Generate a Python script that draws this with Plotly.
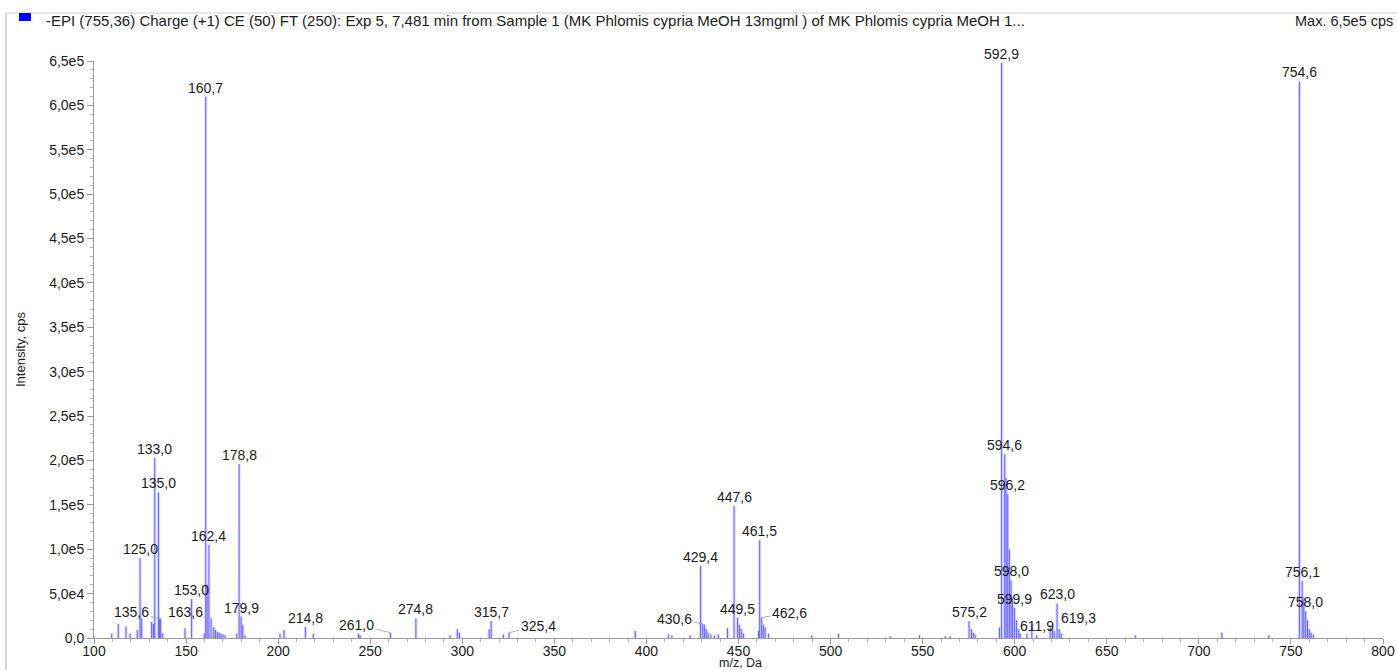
import plotly.graph_objects as go

# ---------------- data ----------------
# labelled peaks (m/z, intensity in cps)
labeled_mz = [125.0, 133.0, 135.0, 135.6, 153.0, 160.7, 162.4, 163.6, 178.8, 179.9,
              214.8, 261.0, 274.8, 315.7, 325.4, 429.4, 430.6, 447.6, 449.5, 461.5,
              462.6, 575.2, 592.9, 594.6, 596.2, 598.0, 599.9, 611.9, 619.3, 623.0,
              754.6, 756.1, 758.0]
labeled_int = [9.0e4, 2.03e5, 1.64e5, 2.2e4, 4.4e4, 6.1e5, 1.05e5, 2.2e4, 1.96e5, 2.4e4,
               1.25e4, 6.0e3, 2.2e4, 1.9e4, 6.0e3, 8.1e4, 1.6e4, 1.49e5, 2.3e4, 1.1e5,
               2.3e4, 1.9e4, 6.48e5, 2.07e5, 1.62e5, 6.5e4, 3.4e4, 3.0e3, 1.2e4, 3.9e4,
               6.27e5, 6.4e4, 3.0e4]

# unlabelled peaks
other_mz = [109.6, 113.2, 117.4, 119.6, 123.5, 125.9, 131.3, 132.3, 136.2, 137.3,
            149.4, 159.8, 161.4, 165.0, 166.0, 167.0, 168.0, 169.0, 170.0, 171.2,
            177.5, 180.8, 182.0, 201.0, 203.2, 219.1, 243.6, 244.5, 293.4, 297.3,
            298.5, 314.6, 322.3, 393.9, 412.0, 413.8, 423.7, 431.5, 432.5, 433.5,
            435.0, 437.0, 439.1, 444.0, 450.5, 451.5, 452.7, 460.9, 463.5, 464.5,
            466.3, 489.8, 504.3, 532.4, 548.3, 562.2, 565.0, 576.5, 577.5, 578.5,
            591.7, 595.3, 597.1, 598.8, 601.0, 602.2, 603.0, 606.6, 609.3, 620.5,
            621.5, 624.2, 625.3, 665.5, 712.5, 737.9, 757.0, 759.0, 760.0, 761.0,
            762.2]
other_int = [5e3, 1.6e4, 1.3e4, 5e3, 9e3, 2.2e4, 1.8e4, 1.6e4, 2.2e4, 5e3,
             1.1e4, 5e3, 6e4, 1.2e4, 9e3, 7e3, 6e3, 5e3, 4e3, 3e3,
             5e3, 1.5e4, 3e3, 5e3, 9e3, 5e3, 5e3, 3e3, 3e3, 1.0e4,
             6e3, 1.0e4, 4e3, 8e3, 4e3, 3e3, 3e3, 1.5e4, 1.0e4, 6e3,
             4e3, 3e3, 4e3, 1.1e4, 1.5e4, 1.0e4, 5e3, 8e3, 1.5e4, 1.2e4,
             5e3, 3e3, 5e3, 2e3, 3e3, 2e3, 2e3, 1.0e4, 6e3, 4e3,
             1.2e4, 1.8e5, 1.0e5, 4.5e4, 2.0e4, 1.0e4, 5e3, 5e3, 1.5e4, 1.0e4,
             8e3, 1.0e4, 5e3, 3e3, 6e3, 3e3, 4.5e4, 2.0e4, 1.0e4, 6e3,
             4e3]

x_tickvals = [100, 150, 200, 250, 300, 350, 400, 450, 500, 550, 600, 650, 700, 750, 800]
y_tickvals = [0, 5e4, 1e5, 1.5e5, 2e5, 2.5e5, 3e5, 3.5e5, 4e5, 4.5e5, 5e5, 5.5e5, 6e5, 6.5e5]
y_ticktext = ["0,0", "5,0e4", "1,0e5", "1,5e5", "2,0e5", "2,5e5", "3,0e5", "3,5e5",
              "4,0e5", "4,5e5", "5,0e5", "5,5e5", "6,0e5", "6,5e5"]

header_text = ("-EPI (755,36) Charge (+1) CE (50) FT (250): Exp 5, 7,481 min from Sample 1 "
               "(MK Phlomis cypria MeOH 13mgml ) of MK Phlomis cypria MeOH 1...")
max_text = "Max. 6,5e5 cps"

# label placement styles (pixel offsets for labels with leader lines / shifts)
leader_offsets = {135.6: (-28, -6), 163.6: (-26, -6), 261.0: (-34, -8),
                  325.4: (29, -7), 430.6: (-28, -5), 462.6: (28, -5)}
label_xshift = {619.3: 28}

# ---------------- figure ----------------
all_mz = labeled_mz + other_mz
all_int = labeled_int + other_int
xs, ys = [], []
for m, v in sorted(zip(all_mz, all_int)):
    xs += [m, m, None]
    ys += [0, v, None]

FONT = "Liberation Sans, Arial, sans-serif"
fig = go.Figure()
fig.add_trace(go.Scatter(x=xs, y=ys, mode="lines",
                         line=dict(color="rgba(160,160,255,0.40)", width=3),
                         hoverinfo="skip", showlegend=False))
fig.add_trace(go.Scatter(x=xs, y=ys, mode="lines",
                         line=dict(color="rgb(100,100,250)", width=1),
                         showlegend=False))

def fmt(m):
    return f"{m:.1f}".replace(".", ",")

for m, v in zip(labeled_mz, labeled_int):
    if m in leader_offsets:
        ax, ay = leader_offsets[m]
        fig.add_annotation(x=m, y=v, text=fmt(m), showarrow=True, arrowhead=0,
                           arrowwidth=0.8, arrowcolor="#999999", ax=ax, ay=ay,
                           standoff=0, font=dict(size=14, color="#1a1a1a", family=FONT))
    else:
        fig.add_annotation(x=m, y=v, text=fmt(m), showarrow=False, yanchor="bottom",
                           xanchor="center", yshift=-1, xshift=label_xshift.get(m, 0),
                           font=dict(size=14, color="#1a1a1a", family=FONT))

L, R, T, B = 94, 14, 61, 32
W, H = 1397, 670
pw, ph = W - L - R, H - T - B

def px(xp):
    return (xp - L) / pw

def py(yp):
    return (H - B - yp) / ph

# axis titles
fig.add_annotation(xref="paper", yref="paper", x=px(740), y=py(662.5), text="m/z, Da",
                   showarrow=False, xanchor="center", yanchor="middle",
                   font=dict(size=12.5, color="#1a1a1a", family=FONT))
fig.add_annotation(xref="paper", yref="paper", x=px(20), y=py(350), text="Intensity, cps",
                   showarrow=False, textangle=-90, xanchor="center", yanchor="middle",
                   font=dict(size=13, color="#1a1a1a", family=FONT))
# header
fig.add_annotation(xref="paper", yref="paper", x=px(44), y=py(21), text=header_text,
                   showarrow=False, xanchor="left", yanchor="middle",
                   font=dict(size=15, color="#1a1a1a", family=FONT))
fig.add_annotation(xref="paper", yref="paper", x=px(1395), y=py(21), text=max_text,
                   showarrow=False, xanchor="right", yanchor="middle",
                   font=dict(size=14.5, color="#1a1a1a", family=FONT))

# frame lines and legend square
fig.add_shape(type="line", xref="paper", yref="paper", x0=px(6), x1=px(6), y0=py(13), y1=py(670),
              line=dict(color="#c8c8c8", width=1.5))
fig.add_shape(type="line", xref="paper", yref="paper", x0=px(6), x1=px(1397), y0=py(13), y1=py(13),
              line=dict(color="#dddddd", width=1.5))
fig.add_shape(type="rect", xref="paper", yref="paper", x0=px(19), x1=px(31), y0=py(13), y1=py(21),
              line=dict(width=0), fillcolor="#0000ff")
# blue origin marker
fig.add_shape(type="path", xref="x", yref="y", xsizemode="pixel", ysizemode="pixel",
              xanchor=100, yanchor=0, path="M -6,5 L 1,0 L -6,-5 Z",
              fillcolor="#0000ee", line=dict(width=0))

fig.update_layout(
    width=W, height=H,
    margin=dict(l=L, r=R, t=T, b=B, autoexpand=False),
    paper_bgcolor="white", plot_bgcolor="white",
    font=dict(family=FONT, size=14, color="#1a1a1a"),
    xaxis=dict(range=[100, 800], tickvals=x_tickvals, showgrid=False, zeroline=False,
               showline=True, linecolor="#9a9a9a", linewidth=1, ticks="outside",
               ticklen=5, tickcolor="#9a9a9a", tickfont=dict(size=14), automargin=False,
               ticklabelstandoff=-5,
               minor=dict(dtick=10, ticklen=3, tickcolor="#b0b0b0", ticks="outside")),
    yaxis=dict(range=[0, 6.5e5], tickvals=y_tickvals, ticktext=y_ticktext,
               showgrid=False, zeroline=False, showline=True, linecolor="#9a9a9a",
               linewidth=1, ticks="outside", ticklen=6, tickcolor="#9a9a9a",
               tickfont=dict(size=14), automargin=False,
               minor=dict(dtick=1e4, ticklen=3, tickcolor="#b0b0b0", ticks="outside")),
)

fig.write_html("out.html")
